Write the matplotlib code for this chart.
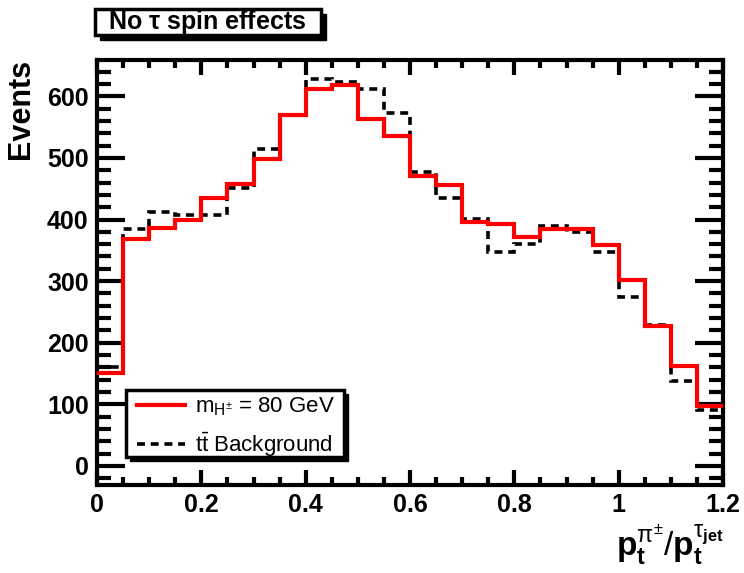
import numpy as np
import matplotlib
matplotlib.use('Agg')
import matplotlib.pyplot as plt
from matplotlib.patches import Rectangle
from matplotlib.ticker import MultipleLocator

plt.rcParams['font.family'] = ['Liberation Sans', 'DejaVu Sans']
plt.rcParams['mathtext.fontset'] = 'custom'
plt.rcParams['mathtext.rm'] = 'Liberation Sans'
plt.rcParams['mathtext.it'] = 'Liberation Sans:italic'
plt.rcParams['mathtext.bf'] = 'Liberation Sans:bold'

# histogram binning (0 -> 1.2 in steps of 0.05)
bin_edges = np.linspace(0.0, 1.2, 25)

# signal, m_H+- = 80 GeV
signal = [151, 369, 387, 399, 435, 458, 498, 570, 612, 618, 563, 535,
          470, 456, 396, 392, 371, 385, 384, 358, 302, 227, 163, 97]
# ttbar background
background = [161, 385, 413, 408, 408, 451, 515, 570, 628, 623, 612, 573,
              477, 435, 401, 348, 360, 390, 380, 348, 274, 228, 138, 90]

W, H = 744, 573
fig = plt.figure(figsize=(W/100, H/100), dpi=100)
ax = fig.add_axes([97/W, 1-485/H, (723-97)/W, (485-60)/H])

ax.stairs(background, bin_edges, baseline=None, color='black', lw=2.6,
          ls=(0, (2.2, 1.6)), label=r'$\mathrm{t\bar{t}}$ Background', zorder=2)
ax.stairs(signal, bin_edges, baseline=None, color='#ff0000', lw=3.0,
          label=r'm$_{\mathrm{H}^{\pm}}$ = 80 GeV', zorder=3)

ax.set_xlim(0, 1.2)
ax.set_ylim(-31, 659)
ax.xaxis.set_minor_locator(MultipleLocator(0.05))
ax.yaxis.set_major_locator(MultipleLocator(100))
ax.yaxis.set_minor_locator(MultipleLocator(20))
ax.set_xticks([0, 0.2, 0.4, 0.6, 0.8, 1.0, 1.2])
ax.set_xticklabels(['0', '0.2', '0.4', '0.6', '0.8', '1', '1.2'])

ax.tick_params(axis='x', which='major', direction='in', length=11, width=3,
               top=True, labelsize=18, pad=6)
ax.tick_params(axis='x', which='minor', direction='in', length=6, width=3, top=True)
ax.tick_params(axis='y', which='major', direction='in', length=20, width=3,
               right=True, labelsize=18, pad=6)
ax.tick_params(axis='y', which='minor', direction='in', length=10, width=3, right=True)
for lab in ax.get_xticklabels() + ax.get_yticklabels():
    lab.set_fontweight('bold')
for sp in ax.spines.values():
    sp.set_linewidth(3)

# axis titles
fig.text(21/W, 1-59/H, 'Events', rotation=90, ha='center', va='top',
         fontsize=22, fontweight='bold')
fig.text(724/W, 1-556/H,
         r'$\mathbf{p}_{\mathbf{t}}^{\mathrm{\pi}^{\pm}}/\mathbf{p}_{\mathbf{t}}^{\mathrm{\tau}_{\mathbf{jet}}}$',
         ha='right', va='baseline', fontsize=24)

# ROOT-style boxes with a shadow
def shadow_box(x0, y0, x1, y1, off=5):
    fig.patches.append(Rectangle((x0/W + off/W, 1-y1/H - off/H), (x1-x0)/W, (y1-y0)/H,
                                 transform=fig.transFigure, facecolor='black',
                                 edgecolor='black', zorder=5))
    fig.patches.append(Rectangle((x0/W, 1-y1/H), (x1-x0)/W, (y1-y0)/H,
                                 transform=fig.transFigure, facecolor='white',
                                 edgecolor='black', lw=2.5, zorder=6))

shadow_box(126, 390, 344, 457, off=4)
handles, labels = ax.get_legend_handles_labels()
leg = fig.legend(handles[::-1], labels[::-1], loc='upper left',
                 bbox_to_anchor=(131/W, 1-390/H), frameon=False, fontsize=16,
                 handlelength=2.2, handletextpad=0.45, labelspacing=0.55,
                 borderaxespad=0, borderpad=0.25)
leg.set_zorder(7)

# title box
shadow_box(95, 9, 321, 35, off=5)
fig.text(207/W, 1-22/H, r'No $\mathbf{\tau}$ spin effects', ha='center', va='center',
         fontsize=18, fontweight='bold', zorder=8)

fig.savefig('out.png', dpi=100)
